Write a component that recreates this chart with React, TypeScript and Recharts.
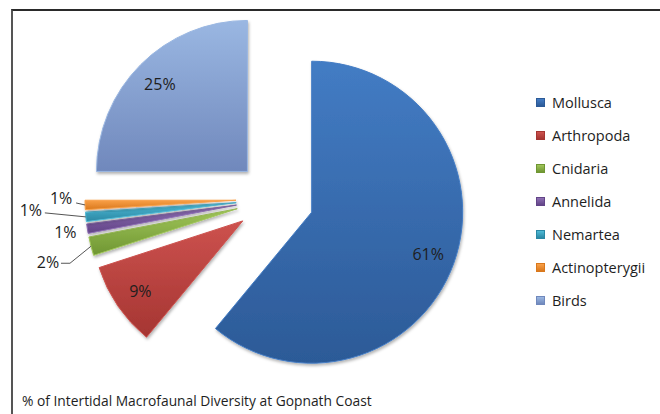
import { Cell, Legend, Pie, PieChart, Sector } from "recharts";

// phyla, in the order Excel draws them (clockwise from 12 o'clock)
const categories = [
  "Mollusca",
  "Arthropoda",
  "Cnidaria",
  "Annelida",
  "Nemartea",
  "Actinopterygii",
  "Birds",
];
const shares = [61, 9, 2, 1, 1, 1, 25];

// [top, bottom] of the bevel gradient
const COLORS: Record<string, [string, string]> = {
  Mollusca: ["#437cc4", "#2c5a97"],
  Arthropoda: ["#cd524e", "#a53532"],
  Cnidaria: ["#a0c559", "#6f9632"],
  Annelida: ["#8e6fb4", "#624487"],
  Nemartea: ["#4fbad6", "#2a88a4"],
  Actinopterygii: ["#f9a048", "#d9781c"],
  Birds: ["#9ab7e2", "#7088bc"],
};

// where Excel put the small outside labels, relative to the slice tip
const SMALL_LABELS: Record<string, { dx: number; dy: number; line?: [number, number][] }> = {
  Actinopterygii: { dx: -24, dy: -7, line: [[-9, -2]] },
  Nemartea: { dx: -55, dy: -7, line: [[-41, -4]] },
  Annelida: { dx: -22, dy: 3 },
  Cnidaria: { dx: -43, dy: 16, line: [[-21, 17], [-30, 17]] },
};

const EXPLODE = 39;
const RADIAN = Math.PI / 180;
const FONT = "'Open Sans', sans-serif";

const data = categories.map((name, i) => ({ name, value: shares[i] }));

function dir(midAngle: number) {
  return { x: Math.cos(-midAngle * RADIAN), y: Math.sin(-midAngle * RADIAN) };
}

function ExplodedSector(props: any) {
  const d = dir(props.midAngle);
  return (
    <g filter="url(#sliceShadow)">
      <Sector {...props} cx={props.cx + d.x * EXPLODE} cy={props.cy + d.y * EXPLODE} />
    </g>
  );
}

function renderLabel(props: any) {
  const { cx, cy, midAngle, outerRadius, percent, name } = props;
  const d = dir(midAngle);
  const vx = cx + d.x * EXPLODE;
  const vy = cy + d.y * EXPLODE;
  const text = `${Math.round(percent * 100)}%`;
  const layout = SMALL_LABELS[name];
  if (!layout) {
    const r = outerRadius * 0.82;
    return (
      <text
        x={vx + d.x * r}
        y={vy + d.y * r}
        textAnchor="middle"
        dominantBaseline="central"
        fontFamily={FONT}
        fontSize={16}
        fill="#1e1e1e"
      >
        {text}
      </text>
    );
  }
  const tx = vx + d.x * outerRadius;
  const ty = vy + d.y * outerRadius;
  const pts = [[0, 0], ...(layout.line ?? [])]
    .map(([x, y]) => `${tx + x},${ty + y}`)
    .join(" ");
  return (
    <g>
      {layout.line && <polyline points={pts} fill="none" stroke="#555" strokeWidth={1} />}
      <text
        x={tx + layout.dx}
        y={ty + layout.dy}
        textAnchor="middle"
        dominantBaseline="central"
        fontFamily={FONT}
        fontSize={16}
        fill="#1e1e1e"
      >
        {text}
      </text>
    </g>
  );
}

// Legend keeps the data order (Recharts would sort it by name)
function LegendContent() {
  return (
    <div style={{ fontFamily: FONT, fontSize: 14.5, color: "#1e1e1e" }}>
      {categories.map((c) => (
        <div key={c} style={{ height: 33, display: "flex", alignItems: "center" }}>
          <span
            style={{
              width: 7,
              height: 7,
              marginRight: 7,
              border: "1px solid " + COLORS[c][1],
              background: `linear-gradient(${COLORS[c][0]}, ${COLORS[c][1]})`,
            }}
          />
          {c}
        </div>
      ))}
    </div>
  );
}

export default function App() {
  return (
    <div
      style={{
        position: "absolute",
        left: 0,
        top: 0,
        width: 660,
        height: 414,
        overflow: "hidden",
        background: "#fff",
      }}
    >
      <div
        style={{
          position: "absolute",
          left: 11,
          top: 9,
          width: 720,
          height: 480,
          borderTop: "2px solid #2a2a2a",
          borderLeft: "2px solid #555",
        }}
      />
      <PieChart width={660} height={414} margin={{ top: 0, right: 0, bottom: 0, left: 0 }}>
        <defs>
          {categories.map((c, i) => (
            <linearGradient key={c} id={`grad${i}`} x1="0" y1="0" x2="0" y2="1">
              <stop offset="0%" stopColor={COLORS[c][0]} />
              <stop offset="100%" stopColor={COLORS[c][1]} />
            </linearGradient>
          ))}
          <filter id="sliceShadow" x="-20%" y="-20%" width="140%" height="140%">
            <feDropShadow dx="1" dy="2" stdDeviation="1.5" floodColor="#000" floodOpacity="0.3" />
          </filter>
        </defs>
        <Pie
          data={data}
          dataKey="value"
          nameKey="name"
          cx={275}
          cy={199}
          outerRadius={151}
          startAngle={90}
          endAngle={-270}
          shape={ExplodedSector}
          activeShape={ExplodedSector}
          inactiveShape={ExplodedSector}
          label={renderLabel}
          labelLine={false}
          isAnimationActive={false}
        >
          {categories.map((c, i) => (
            <Cell key={c} fill={`url(#grad${i})`} stroke={COLORS[c][0]} strokeWidth={1} />
          ))}
        </Pie>
        <Legend
          layout="vertical"
          content={<LegendContent />}
          wrapperStyle={{ left: 536, top: 86, width: 124, right: "auto", bottom: "auto" }}
        />
      </PieChart>
      <div
        style={{
          position: "absolute",
          left: 22,
          top: 391,
          fontFamily: FONT,
          fontSize: 13.8,
          color: "#1e1e1e",
          whiteSpace: "nowrap",
        }}
      >
        % of Intertidal Macrofaunal Diversity at Gopnath Coast
      </div>
    </div>
  );
}
